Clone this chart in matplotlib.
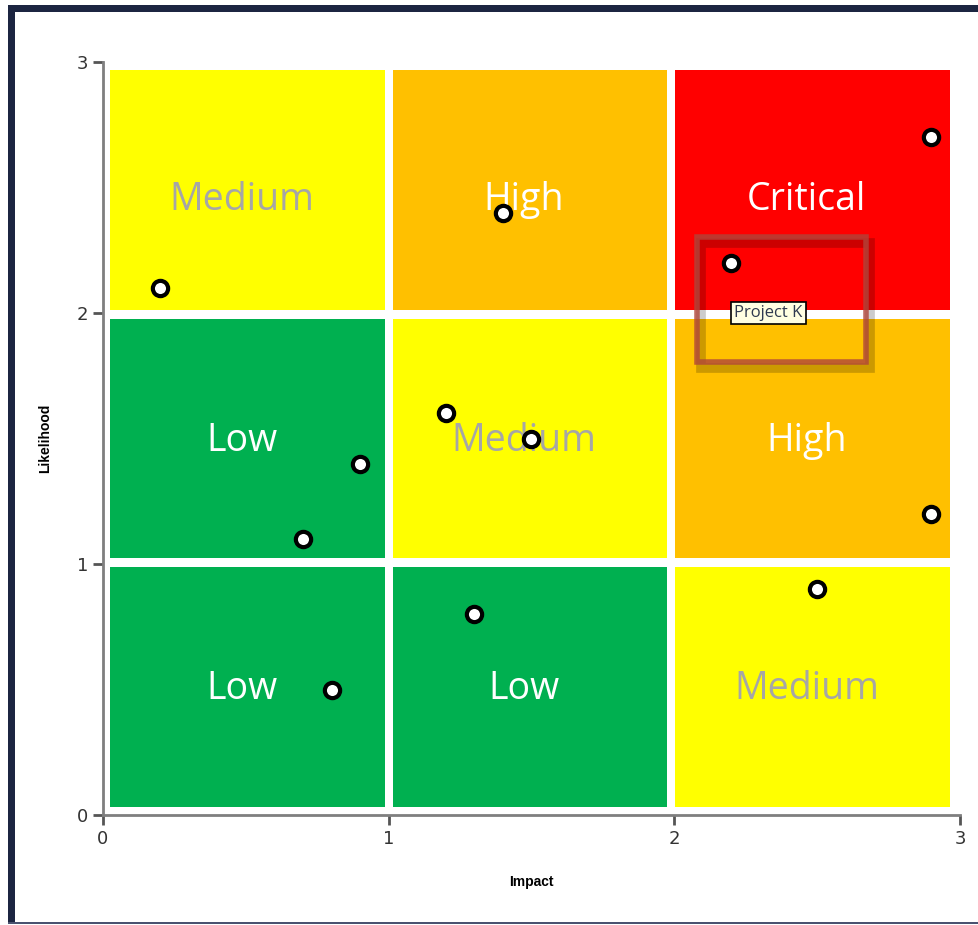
import matplotlib
matplotlib.use("Agg")
import matplotlib.pyplot as plt
from matplotlib.patches import Rectangle
import matplotlib.patheffects as pe

# Risk matrix cells: (impact col, likelihood row, label, colour, text colour)
cell_cols = [0, 1, 2, 0, 1, 2, 0, 1, 2]
cell_rows = [2, 2, 2, 1, 1, 1, 0, 0, 0]
cell_labels = ["Medium", "High", "Critical", "Low", "Medium", "High", "Low", "Low", "Medium"]
cell_colors = ["#FFFF00", "#FFC000", "#FF0000", "#00B050", "#FFFF00", "#FFC000",
               "#00B050", "#00B050", "#FFFF00"]
text_colors = ["#A6A6A6", "white", "white", "white", "#A6A6A6", "white",
               "white", "white", "#A6A6A6"]

# Projects (impact, likelihood)
impact = [0.2, 1.4, 2.9, 2.2, 0.9, 0.7, 1.2, 1.5, 2.9, 2.5, 1.3, 0.8]
likelihood = [2.1, 2.4, 2.7, 2.2, 1.4, 1.1, 1.6, 1.5, 1.2, 0.9, 0.8, 0.5]

ticks = [0, 1, 2, 3]
tooltip_text = "Project K"
tooltip_point = (2.2, 2.2)

W, H = 979, 925
fig = plt.figure(figsize=(W / 100, H / 100), dpi=100)

# navy frame around the picture
navy = "#1C2541"
fig.patches.append(Rectangle((8 / W, 2 / H), 7 / W, (H - 7) / H, transform=fig.transFigure,
                             facecolor=navy, edgecolor="none"))
fig.patches.append(Rectangle((8 / W, (H - 12) / H), (W - 8) / W, 7 / H, transform=fig.transFigure,
                             facecolor=navy, edgecolor="none"))
fig.patches.append(Rectangle((8 / W, 1 / H), (W - 8) / W, 2 / H, transform=fig.transFigure,
                             facecolor="#4A5270", edgecolor="none"))

ax = fig.add_axes([103 / W, 110 / H, 857 / W, 753 / H])
ax.set_xlim(0, 3)
ax.set_ylim(0, 3)

for c, r, lab, col, tcol in zip(cell_cols, cell_rows, cell_labels, cell_colors, text_colors):
    x0 = c * 0.989 + 0.025
    y0 = r * 0.99 + 0.032
    ax.add_patch(Rectangle((x0, y0), 0.962, 0.956, facecolor=col,
                           edgecolor="none", zorder=1))
    ty = y0 + 0.44 if r == 2 else y0 + 0.47
    ax.text(x0 + 0.46, ty, lab, ha="center", va="center", color=tcol,
            fontsize=27, family="Open Sans", zorder=2)

ax.plot(impact, likelihood, "o", markersize=11, markerfacecolor="white",
        markeredgecolor="black", markeredgewidth=3, zorder=5)

# highlight box around Project K
shadow = [pe.SimpleLineShadow(offset=(3, -4), alpha=0.2, linewidth=7), pe.Normal()]
hl = Rectangle((2.079, 1.805), 0.592, 0.498, facecolor="none", edgecolor="#B0453A",
               linewidth=4, alpha=0.8, zorder=6)
hl.set_path_effects(shadow)
ax.add_patch(hl)

tt = ax.text(tooltip_point[0] + 0.01, tooltip_point[1] - 0.2, tooltip_text, ha="left", va="center",
             fontsize=12, color="#2F3A4F", family="Open Sans", zorder=7,
             bbox=dict(boxstyle="square,pad=0.2", facecolor="#FFFFE1", edgecolor="black", linewidth=1.2))

for s in ["top", "right"]:
    ax.spines[s].set_visible(False)
for s in ["left", "bottom"]:
    ax.spines[s].set_color("#7F7F7F")
    ax.spines[s].set_linewidth(2)
ax.set_xticks(ticks)
ax.set_yticks(ticks)
ax.tick_params(length=7, width=2, color="#555555", labelsize=13, labelcolor="#333333")

ax.set_xlabel("Impact", fontsize=10, fontweight="bold", labelpad=20, family="Liberation Sans")
ax.set_ylabel("Likelihood", fontsize=10, fontweight="bold", labelpad=18, family="Liberation Sans")

fig.savefig("out.png", dpi=100)
